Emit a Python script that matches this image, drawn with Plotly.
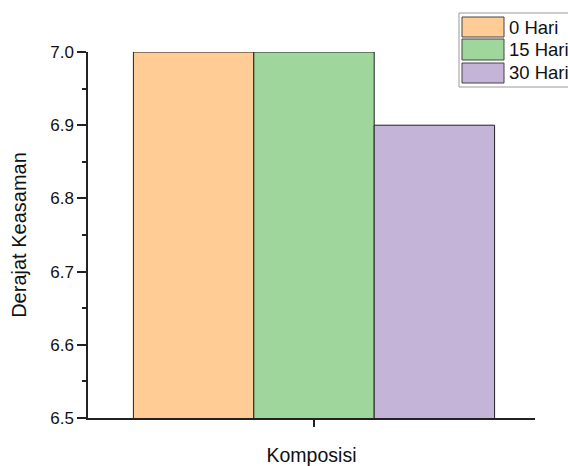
import plotly.graph_objects as go

categories = ["Komposisi"]
series_names = ["0 Hari", "15 Hari", "30 Hari"]
values_0 = [7.0]
values_15 = [7.0]
values_30 = [6.9]
colors = ["#FECC94", "#9ED69B", "#C4B4D8"]
y_ticks = [6.5, 6.6, 6.7, 6.8, 6.9, 7.0]

fig = go.Figure()
for name, vals, col in zip(series_names, [values_0, values_15, values_30], colors):
    fig.add_trace(go.Bar(x=categories, y=vals, name=name, marker_color=col,
                         marker_line_color="#222222", marker_line_width=1,
                         showlegend=False))

fig.update_layout(
    width=568, height=466,
    margin=dict(l=88, r=33, t=52, b=48),
    paper_bgcolor="white", plot_bgcolor="white",
    barmode="group", bargap=0.192, bargroupgap=0,
    font=dict(family="Liberation Sans, Arial, sans-serif", color="#111111"),
)
fig.update_xaxes(
    range=[-0.5056, 0.4944], showline=True, linecolor="#222222", linewidth=1.5,
    ticks="outside", ticklen=7, tickcolor="#222222", tickwidth=1.5,
    showticklabels=False, showgrid=False, zeroline=False,
    title=dict(text="Komposisi", font=dict(size=19.5), standoff=31), automargin=False,
)
fig.update_yaxes(
    range=[6.5, 7.0], showline=True, linecolor="#222222", linewidth=1.5,
    ticks="outside", ticklen=9, tickcolor="#222222", tickwidth=1.5,
    tickvals=y_ticks, ticktext=[f"{v:.1f}" for v in y_ticks], tickfont=dict(size=17),
    minor=dict(dtick=0.05, ticks="outside", ticklen=4, tickcolor="#222222", tickwidth=1.5, showgrid=False),
    showgrid=False, zeroline=False,
    title=dict(text="Derajat Keasaman", font=dict(size=20), standoff=18), automargin=False,
)

# custom legend (Origin-style large swatches), placed in paper coordinates
fig.add_shape(type="rect", xref="paper", yref="paper",
              x0=(459-88)/447, x1=(575-88)/447, y0=(418-87)/366, y1=(418-13)/366,
              line=dict(color="#999999", width=1), fillcolor="white", layer="above")
rows = [(17, 37), (39, 60), (63, 83)]
for (t, b), name, col in zip(rows, series_names, colors):
    fig.add_shape(type="rect", xref="paper", yref="paper",
                  x0=(462-88)/447, x1=(504-88)/447, y0=(418-b)/366, y1=(418-t)/366,
                  line=dict(color="#444444", width=1), fillcolor=col, layer="above")
    fig.add_annotation(xref="paper", yref="paper", x=(507-88)/447, y=(418-(t+b)/2)/366,
                       text=name, showarrow=False, xanchor="left", yanchor="middle",
                       font=dict(size=18.5, color="#111111"))

fig.write_html("out.html", config={"displayModeBar": False},
               post_script="document.body.style.margin='0';document.body.style.overflow='hidden';")
